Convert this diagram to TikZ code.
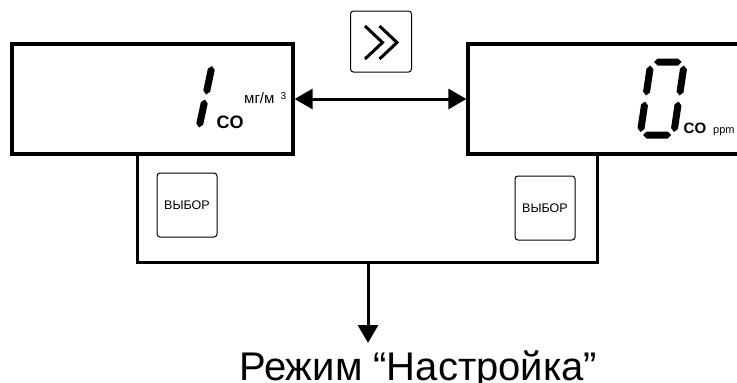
\documentclass[tikz,border=0pt]{standalone}
\usepackage{fontspec}
\setmainfont{Liberation Sans}
\usetikzlibrary{arrows.meta,calc}
\newcommand\segm[2]{\fill ($(#1)$) -- ($(#1)!3.5pt!(#2)!3.5pt!90:(#2)$) -- ($(#2)!3.5pt!(#1)!3.5pt!-90:(#1)$) -- ($(#2)$) -- ($(#2)!3.5pt!(#1)!3.5pt!90:(#1)$) -- ($(#1)!3.5pt!(#2)!3.5pt!-90:(#2)$) -- cycle;}
\tikzset{
  disp/.style={draw, line width=3.2pt, rectangle, inner sep=0pt},
  keybox/.style={draw, line width=1pt, rounded corners=3pt, rectangle, inner sep=0pt, font=\fontsize{12.5}{13}\selectfont},
  frameline/.style={line width=3pt},
  arr/.style={line width=3pt, -{Triangle[length=18pt,width=20pt]}},
  dblarr/.style={line width=3pt, {Triangle[length=18pt,width=20pt]}-{Triangle[length=18pt,width=20pt]}},
  chev/.style={line width=3pt, miter limit=10}
}
\begin{document}
\begin{tikzpicture}[x=1pt,y=-1pt]
\useasboundingbox (0,0) rectangle (737,383);
% displays
\node[disp, minimum width=281pt, minimum height=110pt] (L) at (152.5,99) {};
\node[disp, minimum width=290pt, minimum height=110pt] (R) at (613,99) {};
% forward key
\node[keybox, minimum width=61pt, minimum height=61pt] (fwd) at (381,41.5) {};
\draw[chev] (365,26) -- (382.5,42.5) -- (365,59);
\draw[chev] (379.5,26) -- (397,42.5) -- (379.5,59);
% double arrow
\draw[dblarr] (L.east) -- (R.west);
% digit 1
\segm{212,66}{206,94.5}
\segm{205,99.5}{199,127.5}
\node[anchor=base west, inner sep=0pt, font=\fontsize{18}{19}\selectfont\bfseries] (coL) at (216.5,128) {CO};
\node[anchor=base west, inner sep=0pt, font=\fontsize{15}{16}\selectfont] (unL) at (244,103) {мг/м};
\node[anchor=base west, inner sep=0pt, font=\fontsize{10}{11}\selectfont] (unL3) at (280.5,99.5) {3};
% digit 0
\segm{654,62}{681.5,62}
\segm{650.5,65.5}{646,95.5}
\segm{645,101.5}{640.5,132}
\segm{684,65.5}{679.5,95.5}
\segm{678.5,101.5}{674,132}
\segm{643,135}{671,135}
\node[anchor=base west, inner sep=0pt, font=\fontsize{15}{16}\selectfont\bfseries] (coR) at (683.5,133) {CO};
\node[anchor=base west, inner sep=0pt, font=\fontsize{11}{12}\selectfont] (unR) at (713,133) {ppm};
% select keys
\node[keybox, minimum width=60pt, minimum height=64pt] (selL) at (187,205) {ВЫБОР};
\node[keybox, minimum width=60pt, minimum height=64pt] (selR) at (545,208) {ВЫБОР};
% frame
\coordinate (fa) at (137,154);
\coordinate (fb) at (137,262);
\coordinate (fc) at (597,262);
\coordinate (fd) at (597,154);
\coordinate (fm) at (368,262);
\coordinate (tip) at (368,343);
\draw[frameline] (fa) -- (fb) -- (fc) -- (fd);
\draw[arr] (fm) -- (tip);
\node[anchor=base west, inner sep=0pt, font=\fontsize{40}{41}\selectfont] (mode) at (239,380) {Режим “Настройка”};
\end{tikzpicture}
\end{document}
